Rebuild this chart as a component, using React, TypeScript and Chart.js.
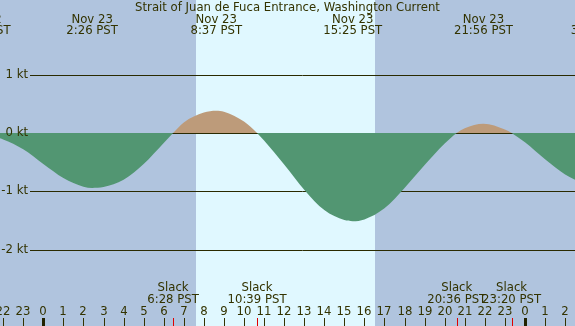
import React, { useEffect, useRef } from "react";
import { Chart, registerables } from "chart.js";

Chart.register(...registerables);

// Hours since Nov 23 00:00 PST and current speed in knots (negative = ebb)
const hours = [-3.05, -2, -1, 0, 1, 2, 2.433, 3, 4, 5, 6, 6.467, 7, 8, 8.617, 9, 10, 10.65, 11, 12, 13, 14, 15, 15.417, 16, 17, 18, 19, 20, 20.6, 21, 21.933, 23, 23.333, 24, 25, 26, 27, 27.56];
const knots = [-0.02, -0.11, -0.28, -0.53, -0.77, -0.92, -0.94, -0.925, -0.8, -0.53, -0.17, 0, 0.18, 0.35, 0.38, 0.365, 0.195, 0, -0.13, -0.54, -0.97, -1.32, -1.49, -1.51, -1.48, -1.29, -0.94, -0.55, -0.18, 0, 0.08, 0.16, 0.06, 0, -0.16, -0.45, -0.71, -0.87, -0.9];

const peakHours = [-3.1, 2.433, 8.617, 15.417, 21.933, 27.56];
const peakDates = ["Nov 22", "Nov 23", "Nov 23", "Nov 23", "Nov 23", "Nov 24"];
const peakTimes = ["20:54 PST", "2:26 PST", "8:37 PST", "15:25 PST", "21:56 PST", "3:34 PST"];

const slackHours = [6.467, 10.65, 20.6, 23.333];
const slackTimes = ["6:28 PST", "10:39 PST", "20:36 PST", "23:20 PST"];

const tickHours = [-2, -1, 0, 1, 2, 3, 4, 5, 6, 7, 8, 9, 10, 11, 12, 13, 14, 15, 16, 17, 18, 19, 20, 21, 22, 23, 24, 25, 26];
const tickLabels = ["22", "23", "0", "1", "2", "3", "4", "5", "6", "7", "8", "9", "10", "11", "12", "13", "14", "15", "16", "17", "18", "19", "20", "21", "22", "23", "0", "1", "2"];
const midnightHours = [0, 24];

const ktLevels = [1, 0, -1, -2];
const ktLabels = ["1 kt", "0 kt", "-1 kt", "-2 kt"];

const dayStart = 7.608;
const dayEnd = 16.527;

const TITLE = "Strait of Juan de Fuca Entrance, Washington Current";

const NIGHT = "#b0c4de";
const DAY = "#e0f8ff";
const FLOOD = "#bd9b7a";
const EBB = "#529672";
const INK = "#333300";
const LINE = "#2a2a00";
const FONT = '11.7px "DejaVu Sans"';

export default function App() {
  const ref = useRef<HTMLCanvasElement | null>(null);

  useEffect(() => {
    const canvas = ref.current!;
    const bg = {
      id: "bg",
      beforeDatasetsDraw(chart: any) {
        const { ctx, chartArea, scales } = chart;
        const x = scales.x, y = scales.y;
        ctx.save();
        ctx.fillStyle = NIGHT;
        ctx.fillRect(chartArea.left, chartArea.top, chartArea.right - chartArea.left, chartArea.bottom - chartArea.top);
        const d0 = Math.round(x.getPixelForValue(dayStart));
        const d1 = Math.round(x.getPixelForValue(dayEnd));
        ctx.fillStyle = DAY;
        ctx.fillRect(d0, chartArea.top, d1 - d0, chartArea.bottom - chartArea.top);
        ctx.strokeStyle = LINE;
        ctx.lineWidth = 1;
        ktLevels.forEach((k) => {
          const py = Math.round(y.getPixelForValue(k)) + 0.5;
          ctx.beginPath();
          ctx.moveTo(30, py);
          ctx.lineTo(chartArea.right, py);
          ctx.stroke();
        });
        ctx.restore();
      },
      afterDatasetsDraw(chart: any) {
        const { ctx, chartArea, scales } = chart;
        const x = scales.x, y = scales.y;
        ctx.save();
        ctx.font = FONT;
        ctx.fillStyle = INK;
        ctx.textBaseline = "middle";
        ctx.textAlign = "right";
        ktLevels.forEach((k, i) => {
          ctx.fillText(ktLabels[i], 28, Math.round(y.getPixelForValue(k)) - 0.5);
        });
        ctx.textAlign = "center";
        ctx.fillText(TITLE, (chartArea.left + chartArea.right) / 2, 8);
        peakHours.forEach((h, i) => {
          const px = x.getPixelForValue(h);
          ctx.fillText(peakDates[i], px, 19.5);
          ctx.fillText(peakTimes[i], px, 31);
        });
        slackHours.forEach((h, i) => {
          const px = x.getPixelForValue(h);
          ctx.fillText("Slack", px, 288);
          ctx.fillText(slackTimes[i], px, 299.5);
        });
        tickHours.forEach((h, i) => {
          const px = Math.round(x.getPixelForValue(h));
          ctx.fillStyle = INK;
          ctx.fillText(tickLabels[i], px, 311.5);
          ctx.fillRect(px, 318, 1, 8);
        });
        midnightHours.forEach((h) => {
          const px = Math.round(x.getPixelForValue(h));
          ctx.fillStyle = "#222200";
          ctx.fillRect(px - 1, 318, 3, 8);
        });
        slackHours.forEach((h) => {
          const px = Math.round(x.getPixelForValue(h));
          ctx.fillStyle = "#e00000";
          ctx.fillRect(px, 318, 1, 8);
        });
        ctx.restore();
      },
    };

    const chart = new Chart(canvas, {
      type: "line",
      data: {
        datasets: [
          {
            data: hours.map((h, i) => ({ x: h, y: knots[i] })),
            fill: { target: "origin", above: FLOOD, below: EBB },
            borderWidth: 0,
            borderColor: "rgba(0,0,0,0)",
            pointRadius: 0,
            cubicInterpolationMode: "monotone",
          } as any,
        ],
      },
      options: {
        animation: false,
        responsive: false,
        devicePixelRatio: 1,
        layout: { padding: 0 },
        events: [],
        scales: {
          x: { type: "linear", min: -43.3 / 20.07, max: (575 - 43.3) / 20.07, display: false },
          y: { type: "linear", min: -(326 - 133) / 58.4, max: 133 / 58.4, display: false },
        },
        plugins: { legend: { display: false }, tooltip: { enabled: false }, title: { display: false } },
      },
      plugins: [bg],
    });
    return () => chart.destroy();
  }, []);

  return (
    <div style={{ position: "absolute", left: 0, top: 0, width: 575, height: 326 }}>
      <canvas ref={ref} width={575} height={326} style={{ display: "block", width: 575, height: 326 }} />
    </div>
  );
}
